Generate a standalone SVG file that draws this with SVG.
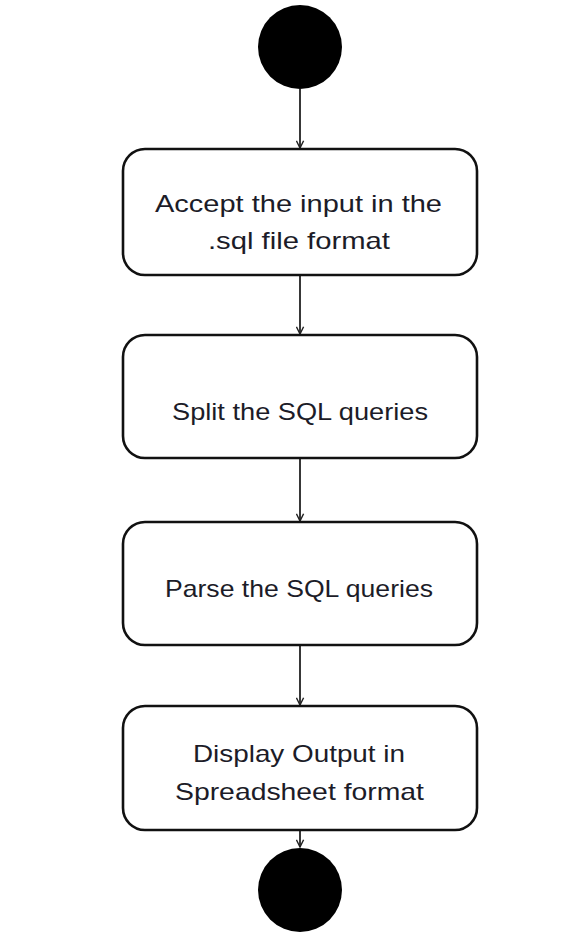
<svg xmlns="http://www.w3.org/2000/svg" width="574" height="932" viewBox="0 0 574 932">
<defs>
<style>
.box{fill:#fff;stroke:#111;stroke-width:2.6}
.lbl{font-family:"Liberation Sans",Arial,sans-serif;font-size:24px;fill:#1c1c28;text-anchor:middle}
.edge{stroke:#222;stroke-width:1.8;fill:none}
.dot{fill:#000}
</style>
<marker id="arr" viewBox="0 0 10 10" refX="9" refY="5" markerWidth="9" markerHeight="9" markerUnits="userSpaceOnUse" orient="auto">
<path d="M1,1 L9,5 L1,9" fill="none" stroke="#222" stroke-width="1.6"/>
</marker>
</defs>
<rect width="574" height="932" fill="#fff"/>
<g id="connectors">
<line class="edge" x1="300" y1="89" x2="300" y2="148" marker-end="url(#arr)"/>
<line class="edge" x1="300" y1="276" x2="300" y2="334" marker-end="url(#arr)"/>
<line class="edge" x1="300" y1="459" x2="300" y2="521" marker-end="url(#arr)"/>
<line class="edge" x1="300" y1="646" x2="300" y2="705" marker-end="url(#arr)"/>
<line class="edge" x1="300" y1="831" x2="300" y2="847" marker-end="url(#arr)"/>
</g>
<g id="start"><circle class="dot" cx="300" cy="47" r="42"/></g>
<g id="accept">
<rect class="box" x="123" y="149" width="354" height="126" rx="22"/>
<text class="lbl" x="298.5" y="212" textLength="287" lengthAdjust="spacingAndGlyphs">Accept the input in the</text>
<text class="lbl" x="299" y="249" textLength="182" lengthAdjust="spacingAndGlyphs">.sql file format</text>
</g>
<g id="split">
<rect class="box" x="123" y="335" width="354" height="123" rx="22"/>
<text class="lbl" x="300" y="420" textLength="256" lengthAdjust="spacingAndGlyphs">Split the SQL queries</text>
</g>
<g id="parse">
<rect class="box" x="123" y="522" width="354" height="123" rx="22"/>
<text class="lbl" x="299" y="597" textLength="268" lengthAdjust="spacingAndGlyphs">Parse the SQL queries</text>
</g>
<g id="display">
<rect class="box" x="123" y="706" width="354" height="124" rx="22"/>
<text class="lbl" x="299" y="762" textLength="212" lengthAdjust="spacingAndGlyphs">Display Output  in</text>
<text class="lbl" x="299.5" y="800" textLength="249" lengthAdjust="spacingAndGlyphs">Spreadsheet format</text>
</g>
<g id="end"><circle class="dot" cx="300" cy="890" r="42"/></g>
</svg>
